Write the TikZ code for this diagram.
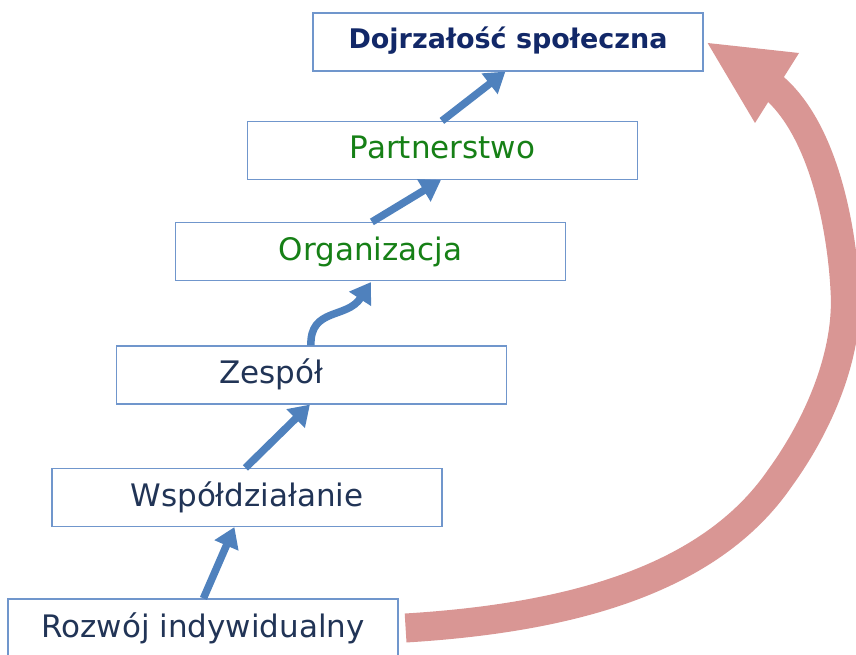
\documentclass[tikz,border=0pt]{standalone}
\usepackage{fontspec}
\setmainfont{DejaVu Sans}
\usetikzlibrary{arrows.meta,calc}
\definecolor{boxline}{RGB}{112,150,204}
\definecolor{stepblue}{RGB}{79,129,189}
\definecolor{cyclered}{RGB}{217,150,148}
\definecolor{titlenavy}{RGB}{18,40,104}
\definecolor{labelslate}{RGB}{33,52,86}
\definecolor{labelgreen}{RGB}{22,128,22}

\begin{document}
\begin{tikzpicture}[x=1pt,y=-1pt,
  level/.style={draw=boxline, line width=1.2pt, fill=white,
    minimum width=390pt, minimum height=58pt, inner sep=0pt},
  lbl/.style={anchor=base, inner sep=0pt, font=\fontsize{31}{34}\selectfont},
  climb/.style={draw=stepblue, line width=7.5pt,
    -{Triangle[length=20pt,width=25pt]}},
  cycle arrow/.style={draw=cyclered, line width=29pt},
]
\useasboundingbox (0,0) rectangle (856,655);

% the six stages, top to bottom
\node[level] (b1) at (508,42) {};
\node[level] (b2) at (442.5,150.5) {};
\node[level] (b3) at (370.5,251.5) {};
\node[level] (b4) at (311.5,375) {};
\node[level] (b5) at (247,497.5) {};
\node[level] (b6) at (203,628) {};

% stage labels
\node[lbl, text=titlenavy, font=\fontsize{27}{30}\selectfont\bfseries] (t1)
  at ($(b1.center)+(0,7)$) {Dojrzałość społeczna};
\node[lbl, text=labelgreen] (t2) at ($(b2.center)+(0,8)$) {Partnerstwo};
\node[lbl, text=labelgreen] (t3) at ($(b3.center)+(0,8.5)$) {Organizacja};
\node[lbl, text=labelslate] (t4) at ($(b4.center)+(-40,8)$) {Zespół};
\node[lbl, text=labelslate] (t5) at ($(b5.center)+(0,9)$) {Współdziałanie};
\node[lbl, text=labelslate] (t6) at ($(b6.center)+(0,9)$) {Rozwój indywidualny};

% blue steps between the stages
\draw[climb] ($(b6.north west)+(196,0)$) -- ($(b5.south west)+(183,0)$);
\draw[climb] ($(b5.north west)+(194,0)$) -- ($(b4.south west)+(194,0)$);
\draw[climb] ($(b4.north west)+(195,0)$)
  .. controls ($(b4.north west)+(194,-38)$) and ($(b3.south west)+(172,38)$)
  .. ($(b3.south west)+(196,1)$);
\draw[climb] ($(b3.north west)+(197,0)$) -- ($(b2.south west)+(194,0)$);
\draw[climb] ($(b2.north west)+(195,0)$) -- ($(b1.south west)+(193,0)$);

% large red arrow from the first stage back to the last one
\coordinate (rs) at ($(b6.east)+(7,0)$);
\coordinate (rt) at ($(b1.east)+(4,1)$);
\draw[cycle arrow] (rs)
  .. controls (570,618) and (710,580) .. (780,478)
  .. controls (822,420) and (849,350) .. (845,290)
  .. controls (842,232) and (825,130) .. (772,86);
\fill[cyclered] (rt) -- (799,53) -- (755,123) -- cycle;
\end{tikzpicture}
\end{document}
